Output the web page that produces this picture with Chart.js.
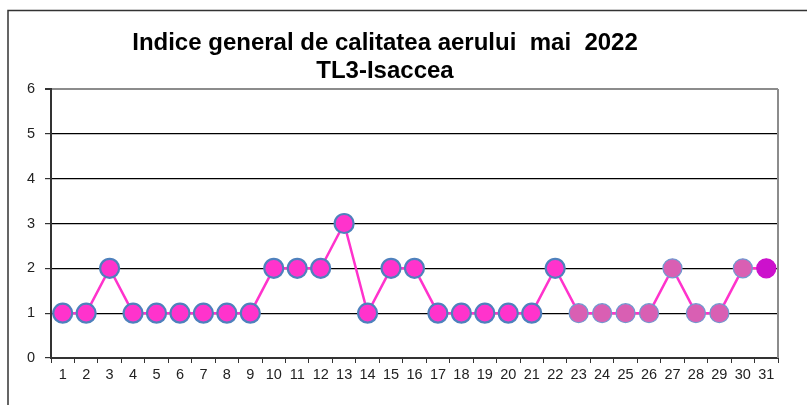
<!DOCTYPE html>
<html>
<head>
<meta charset="utf-8">
<script src="https://cdn.jsdelivr.net/npm/chart.js@4/dist/chart.umd.min.js"></script>
<style>
    body { margin: 0; background: #fff; }
    #wrap { width: 807px; height: 405px; position: relative; }
</style>
</head>
<body>
<div id="wrap"><canvas id="aqi-graph" width="807" height="405"></canvas></div>
<script>
const titleLines = ["Indice general de calitatea aerului  mai  2022", "TL3-Isaccea"];
const days = ["1","2","3","4","5","6","7","8","9","10","11","12","13","14","15","16",
              "17","18","19","20","21","22","23","24","25","26","27","28","29","30","31"];
const indexValues = [1,1,2,1,1,1,1,1,1,2,2,2,3,1,2,2,1,1,1,1,1,2,1,1,1,1,2,1,1,2,2];
const yTicks = [0,1,2,3,4,5,6];

// point look changes along the month, like in the original sheet
function pointFill(i) {
    if (i < 22) return "#ff33cc";
    if (i < 30) return "#d95fb3";
    return "#cc11cc";
}
function pointBorder(i) {
    if (i < 22) return "#4f81bd";
    if (i < 30) return "#7399d0";
    return "#cc11cc";
}
function pointBorderW(i) {
    return i < 22 ? 2.2 : 1.3;
}

const framePlugin = {
    id: "frame",
    beforeDraw(chart) {
        let c = chart.ctx;
        c.save();
        c.strokeStyle = "#333";
        c.lineWidth = 1.5;
        c.beginPath();
        c.moveTo(8, 410);
        c.lineTo(8, 10.5);
        c.lineTo(810, 10.5);
        c.stroke();
        c.restore();
    },
    afterDraw(chart) {
        let c = chart.ctx;
        let a = chart.chartArea;
        c.save();
        c.strokeStyle = "#8c8c8c";
        c.lineWidth = 2;
        c.beginPath();
        c.moveTo(a.right, a.top);
        c.lineTo(a.right, a.bottom);
        c.stroke();
        c.fillStyle = "#000";
        c.textAlign = "center";
        c.textBaseline = "alphabetic";
        c.font = "bold 24px 'Liberation Sans', Arial, sans-serif";
        c.fillText(titleLines[0], 385, 50);
        c.fillText(titleLines[1], 385, 78);
        c.restore();
    }
};

let ctx = document.getElementById("aqi-graph");
new Chart(ctx, {
    type: "line",
    data: {
        labels: days,
        datasets: [{
            data: indexValues,
            borderColor: "#ff33cc",
            borderWidth: 2.5,
            fill: false,
            tension: 0,
            pointRadius: 9.5,
            pointHoverRadius: 9.5,
            pointBorderWidth: indexValues.map((v, i) => pointBorderW(i)),
            pointBackgroundColor: indexValues.map((v, i) => pointFill(i)),
            pointBorderColor: indexValues.map((v, i) => pointBorder(i))
        }]
    },
    options: {
        responsive: false,
        animation: false,
        layout: { padding: { left: 0, right: 29, top: 89, bottom: 0 } },
        plugins: {
            legend: { display: false },
            title: { display: false },
            tooltip: { enabled: false }
        },
        scales: {
            x: {
                offset: true,
                afterFit(s) { s.height = 47; },
                grid: {
                    offset: true,
                    drawOnChartArea: false,
                    drawTicks: true,
                    tickLength: 5,
                    color: "#333"
                },
                border: { color: "#333", width: 2 },
                ticks: {
                    color: "#222",
                    font: { family: "'Liberation Sans', Arial, sans-serif", size: 14.5 },
                    padding: 3,
                    maxRotation: 0,
                    autoSkip: false
                }
            },
            y: {
                min: 0,
                max: 6,
                afterFit(s) { s.width = 51; },
                afterBuildTicks(s) { s.ticks = yTicks.map(v => ({ value: v })); },
                grid: {
                    color: c => c.tick && c.tick.value == 6 ? "#8c8c8c" : "#000",
                    lineWidth: c => c.tick && c.tick.value == 6 ? 2 : 1.2,
                    tickColor: "#333",
                    tickLength: 6
                },
                border: { color: "#333", width: 2 },
                ticks: {
                    color: "#222",
                    font: { family: "'Liberation Sans', Arial, sans-serif", size: 14.5 },
                    padding: 10
                }
            }
        }
    },
    plugins: [framePlugin]
});
</script>
</body>
</html>
